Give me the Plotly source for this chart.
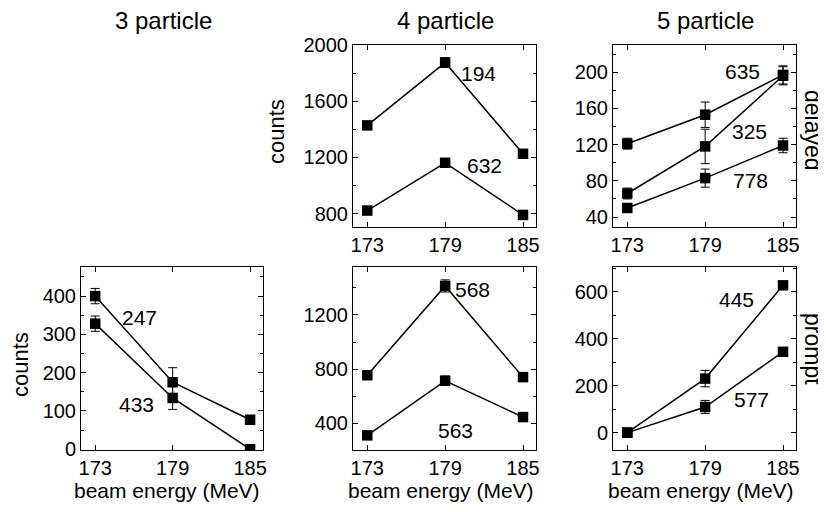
import plotly.graph_objects as go

energy = [173, 179, 185]
energy_ticks = ["173", "179", "185"]

# 3 particle, prompt
p3_prompt_247 = [400, 175, 77]
p3_prompt_247_err = [20, 38, 10]
p3_prompt_433 = [328, 134, 0]
p3_prompt_433_err = [20, 30, 4]

# 4 particle, delayed
p4_delayed_194 = [1428, 1875, 1226]
p4_delayed_194_err = [18, 35, 18]
p4_delayed_632 = [822, 1162, 791]
p4_delayed_632_err = [15, 25, 15]

# 4 particle, prompt
p4_prompt_568 = [755, 1414, 741]
p4_prompt_568_err = [25, 45, 25]
p4_prompt_563 = [311, 714, 446]
p4_prompt_563_err = [18, 35, 20]

# 5 particle, delayed
p5_delayed_635 = [121, 153, 197]
p5_delayed_635_err = [6, 14, 10]
p5_delayed_325 = [66, 118, 196]
p5_delayed_325_err = [6, 19, 10]
p5_delayed_778 = [50, 83, 119]
p5_delayed_778_err = [4, 10, 8]

# 5 particle, prompt
p5_prompt_445 = [0, 230, 627]
p5_prompt_445_err = [8, 35, 10]
p5_prompt_577 = [0, 109, 344]
p5_prompt_577_err = [5, 28, 10]

FONT = "Liberation Sans, Arial, Helvetica, sans-serif"

# page body has an 8px margin, so the figure is drawn 8px in from the corner
OFF = 8
W, H = 826 - OFF, 512 - OFF


def px(x):
    return (x - OFF) / W


def py(y):
    return 1 - (y - OFF) / H


fig = go.Figure()

xd = [[px(81), px(263)], [px(353), px(536)], [px(613), px(796)]]
yd_top = [py(227), py(45)]
yd_bot = [py(450), py(267)]

panels = [
    ("", xd[1], yd_top, [705, 2000], 400, 200,
     [(p4_delayed_194, p4_delayed_194_err), (p4_delayed_632, p4_delayed_632_err)],
     [(181.6, 1800, "194"), (182.0, 1145, "632")]),
    ("2", xd[2], yd_top, [29, 230], 40, 20,
     [(p5_delayed_635, p5_delayed_635_err), (p5_delayed_325, p5_delayed_325_err),
      (p5_delayed_778, p5_delayed_778_err)],
     [(181.9, 201, "635"), (182.4, 135, "325"), (182.5, 80, "778")]),
    ("3", xd[0], yd_bot, [-2, 476], 100, 50,
     [(p3_prompt_247, p3_prompt_247_err), (p3_prompt_433, p3_prompt_433_err)],
     [(176.4, 345, "247"), (176.2, 117, "433")]),
    ("4", xd[1], yd_bot, [203, 1554], 400, 200,
     [(p4_prompt_568, p4_prompt_568_err), (p4_prompt_563, p4_prompt_563_err)],
     [(181.1, 1390, "568"), (179.8, 350, "563")]),
    ("5", xd[2], yd_bot, [-74, 705], 200, 100,
     [(p5_prompt_445, p5_prompt_445_err), (p5_prompt_577, p5_prompt_577_err)],
     [(181.4, 568, "445"), (182.6, 139, "577")]),
]

annotations = []
for suf, xdom, ydom, yrng, dt, mdt, series, labels in panels:
    for vals, errs in series:
        fig.add_trace(go.Scatter(
            x=energy, y=vals, mode="lines+markers",
            line=dict(color="black", width=1.5),
            marker=dict(symbol="square", size=10.5, color="black"),
            error_y=dict(type="data", array=errs, visible=True,
                         color="black", thickness=1, width=4.5),
            xaxis="x" + suf, yaxis="y" + suf, showlegend=False,
        ))
    for lx, ly, txt in labels:
        annotations.append(dict(x=lx, y=ly, xref="x" + suf, yref="y" + suf,
                                text=txt, showarrow=False,
                                font=dict(size=21, color="black", family=FONT)))
    axcommon = dict(showline=True, linecolor="black", linewidth=1, mirror="ticks",
                    ticks="inside", ticklen=5, tickcolor="black", showgrid=False,
                    zeroline=False, automargin=False,
                    tickfont=dict(size=20, color="black", family=FONT))
    fig.update_layout(**{
        "xaxis" + suf: dict(domain=xdom, range=[171.9, 186], anchor="y" + suf,
                            tickvals=energy, ticktext=energy_ticks, **axcommon),
        "yaxis" + suf: dict(domain=ydom, range=yrng, anchor="x" + suf,
                            dtick=dt, tick0=0,
                            minor=dict(ticks="inside", ticklen=3, dtick=mdt, tick0=0,
                                       tickcolor="black"),
                            **axcommon),
    })


def paper_text(x, y, text, size, angle=0):
    annotations.append(dict(x=px(x), y=py(y), xref="paper", yref="paper",
                            text=text, showarrow=False, textangle=angle,
                            xanchor="center", yanchor="middle",
                            font=dict(size=size, color="black", family=FONT)))


paper_text(163, 20, "3 particle", 24)
paper_text(445, 20, "4 particle", 24)
paper_text(705, 20, "5 particle", 24)
paper_text(276, 132, "counts", 22, -90)
paper_text(20, 365, "counts", 22, -90)
paper_text(167, 490, "beam energy (MeV)", 21)
paper_text(441, 490, "beam energy (MeV)", 21)
paper_text(701, 490, "beam energy (MeV)", 21)
paper_text(813, 130, "delayed", 23, 90)
paper_text(813, 349, "prompt", 23, 90)

fig.update_layout(
    template="none",
    width=W, height=H,
    margin=dict(l=0, r=0, t=0, b=0, autoexpand=False),
    paper_bgcolor="white", plot_bgcolor="white",
    annotations=annotations,
    font=dict(family=FONT, color="black"),
)

fig.write_html("out.html")
